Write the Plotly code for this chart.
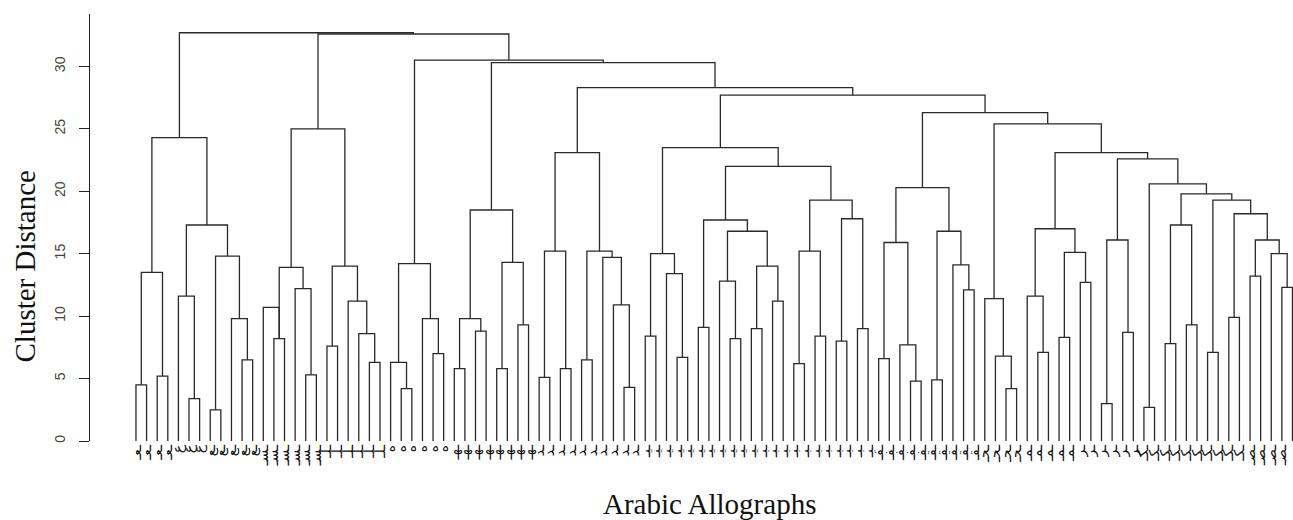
import plotly.graph_objects as go

# ---------------- data ----------------
N_LEAVES = 110

# merge table (R hclust style): negative = leaf -(i+1), positive = earlier merge (1-based)
merge_left = [
    -1, -3, 1, -6, -5, -8, -11, -10, 6, 5, 3,                      # 1-11  cluster A
    -14, -13, -17, -16, 12, -19, -23, -22, -21, 17, 16,            # 12-22 cluster B
    -26, -25, -29, -28, 24,                                          # 23-27 cluster C
    -31, -33, 28, -35, -37, 31, 30,                                  # 28-34 cluster D
    -39, -41, 35, -43, -47, -46, -45, 38, 37,                        # 35-43 cluster E
    -49, -52, -51, 44, -54, -57, -56, -59, -61, 51, 50, 48,          # 44-55
    -63, -65, 56, -67, -69, 59, 58, 55, 47,                          # 56-64 cluster F
    -71, -74, -73, 65, -76, -79, -78, 69, 68,                        # 65-73 cluster G
    -83, -82, -81,                                                   # 74-76 cluster H
    -86, -85, -88, -90, 79, 78,                                      # 77-82 cluster I
    -92, -94, 83,                                                    # 83-85 cluster J
    -96, -98, -100, 87, -102, -104, -106, -109, -108, 92, 91, 90, 89, 86,  # 86-99
    85, 82, 76, 73, 64, 43, 34, 27, 22, 11,                          # 100-109
]
merge_right = [
    -2, -4, 2, -7, 4, -9, -12, 7, 8, 9, 10,
    -15, 12, -18, 14, 15, -20, -24, 18, 19, 20, 21,
    -27, 23, -30, 25, 26,
    -32, -34, 29, -36, -38, 32, 33,
    -40, -42, 36, -44, -48, 39, 40, 41, 42,
    -50, -53, 45, 46, -55, -58, 49, -60, -62, 52, 53, 54,
    -64, -66, 57, -68, -70, 60, 61, 62, 63,
    -72, -75, 66, 67, -77, -80, 70, 71, 72,
    -84, 74, 75,
    -87, 77, -89, -91, 80, 81,
    -93, -95, 84,
    -97, -99, -101, 88, -103, -105, -107, -110, 93, 94, 95, 96, 97, 98,
    99, 100, 101, 102, 103, 104, 105, 106, 107, 108,
]
merge_height = [
    4.5, 5.2, 13.5, 3.4, 11.6, 2.5, 6.5, 9.8, 14.8, 17.3, 24.3,
    8.2, 10.7, 5.3, 12.2, 13.9, 7.6, 6.3, 8.6, 11.2, 14.0, 25.0,
    4.2, 6.3, 7.0, 9.8, 14.2,
    5.8, 8.8, 9.8, 5.8, 9.3, 14.3, 18.5,
    5.1, 5.8, 15.2, 6.5, 4.3, 10.9, 14.7, 15.2, 23.1,
    8.4, 6.7, 13.4, 15.0, 9.1, 8.2, 12.8, 9.0, 11.2, 14.0, 16.8, 17.7,
    6.2, 8.4, 15.2, 8.0, 9.0, 17.8, 19.3, 22.0, 23.5,
    6.6, 4.8, 7.7, 15.9, 4.9, 12.1, 14.1, 16.8, 20.3,
    4.2, 6.8, 11.4,
    7.1, 11.6, 8.3, 12.7, 15.1, 17.0,
    3.0, 8.7, 16.1,
    2.7, 7.8, 9.3, 17.3, 7.1, 9.9, 13.2, 12.3, 15.0, 16.1, 18.2, 19.3, 19.8, 20.6,
    22.6, 23.1, 25.4, 26.3, 27.7, 28.3, 30.3, 30.5, 32.6, 32.7,
]

leaf_labels = [
    'ـعـ', 'ـعـ', 'ـعـ', 'ـعـ', 'ع', 'ع', 'ع', 'ـع', 'ـع', 'ـع', 'ـع', 'ـع',
    'ـسـ', 'ـسـ', 'ـسـ', 'ـسـ', 'ـسـ', 'ـسـ', 'ـلـ', 'ـلـ', 'ـلـ', 'ـلـ', 'ـلـ', 'ـلـ',
    'ه', 'ه', 'ه', 'ه', 'ه', 'ه', 'ـهـ', 'ـهـ', 'ـهـ', 'ـهـ', 'ـهـ', 'ـهـ', 'ـهـ', 'ـهـ',
    'ـد', 'ـد', 'ـد', 'ـد', 'ـد', 'ـد', 'ـد', 'ـد', 'ـد', 'ـد',
    'ـيـ', 'ـيـ', 'ـيـ', 'ـيـ', 'ـيـ', 'ـيـ', 'ـيـ', 'ـيـ', 'ـيـ', 'ـيـ', 'ـيـ',
    'ـبـ', 'ـبـ', 'ـبـ', 'ـبـ', 'ـبـ', 'ـبـ', 'ـبـ', 'ـبـ', 'ـبـ', 'ـبـ', 'ـبـ',
    'ـفـ', 'ـفـ', 'ـفـ', 'ـفـ', 'ـفـ', 'ـقـ', 'ـقـ', 'ـقـ', 'ـقـ', 'ـقـ',
    'ـحـ', 'ـحـ', 'ـحـ', 'ـحـ', 'ـمـ', 'ـمـ', 'ـمـ', 'ـمـ', 'ـمـ',
    'ـر', 'ـر', 'ـر', 'ـر', 'ـر', 'ـر',
    'ـكـ', 'ـكـ', 'ـكـ', 'ـكـ', 'ـكـ', 'ـكـ', 'ـكـ', 'ـكـ', 'ـكـ', 'ـكـ',
    'ـصـ', 'ـصـ', 'ـصـ', 'ـصـ', 'ـصـ',
]

y_ticks = [0, 5, 10, 15, 20, 25, 30]

# ---------------- build dendrogram segments ----------------
node_x = {}
node_y = {}


def pos(ref):
    if ref < 0:
        return float(-ref - 1), 0.0
    return node_x[ref], node_y[ref]


xs, ys = [], []
for k, (a, b, h) in enumerate(zip(merge_left, merge_right, merge_height), start=1):
    xa, ya = pos(a)
    xb, yb = pos(b)
    xs += [xa, xa, xb, xb, None]
    ys += [ya, h, h, yb, None]
    node_x[k] = (xa + xb) / 2.0
    node_y[k] = h

fig = go.Figure()
fig.add_trace(go.Scatter(
    x=xs, y=ys, mode='lines',
    line=dict(color='#2a2a2a', width=1.3),
    hoverinfo='skip', showlegend=False,
))

fig.update_layout(
    width=1293, height=520,
    margin=dict(l=90, r=0, t=14, b=79),
    paper_bgcolor='white', plot_bgcolor='white',
    xaxis=dict(
        range=[-4.333, 109.05],
        tickmode='array',
        tickvals=list(range(N_LEAVES)),
        ticktext=leaf_labels,
        tickangle=-90,
        tickfont=dict(family='DejaVu Sans', size=14, color='#111'),
        ticks='', showgrid=False, zeroline=False, showline=False,
    ),
    yaxis=dict(
        range=[0, 34.2],
        tickmode='array',
        tickvals=y_ticks,
        ticktext=[str(v) for v in y_ticks],
        tickangle=-90,
        tickfont=dict(family='Liberation Sans', size=14, color='#444'),
        ticks='outside', ticklen=10, tickcolor='#222', tickwidth=1,
        ticklabelstandoff=8,
        showline=True, linecolor='#222', linewidth=1,
        showgrid=False, zeroline=False,
    ),
    annotations=[
        dict(text='Cluster Distance', xref='paper', yref='paper',
             x=-0.054, y=0.4087, xanchor='center', yanchor='middle',
             textangle=-90, showarrow=False,
             font=dict(family='Liberation Serif', size=29, color='#111')),
        dict(text='Arabic Allographs', xref='paper', yref='paper',
             x=0.5146, y=-0.1475, xanchor='center', yanchor='middle',
             showarrow=False,
             font=dict(family='Liberation Serif', size=29, color='#111')),
    ],
)

fig.write_html('out.html')
